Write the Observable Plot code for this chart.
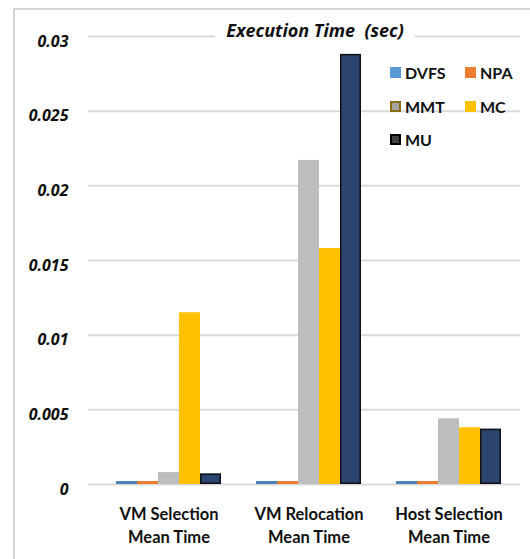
<!DOCTYPE html>
<html>
<head>
<meta charset="utf-8">
<script src="https://cdn.jsdelivr.net/npm/d3@7"></script>
<script src="https://cdn.jsdelivr.net/npm/@observablehq/plot@0.6"></script>
<style>
  html, body { margin: 0; padding: 0; background: #fff; overflow: hidden; }
  #wrap { position: relative; width: 530px; height: 559px; font-family: Lato, "Open Sans", sans-serif; }
  #border { position: absolute; left: 13px; top: 8px; width: 560px; height: 600px; border: 2px solid #d4d4d4; box-sizing: border-box; }
  #title { position: absolute; left: 215px; top: 18px; width: 200px; text-align: center; font: italic bold 18px "Open Sans", sans-serif; color: #111; white-space: pre; background: #fff; line-height: 24px; }
  .lg { position: absolute; font: bold 16px Lato, sans-serif; color: #111; display: flex; align-items: center; }
  .sw { width: 11px; height: 11px; margin-right: 4px; box-sizing: border-box; }
</style>
</head>
<body>
<div id="wrap">
  <div id="border"></div>
  <div id="title">Execution Time  (sec)</div>
  <div id="legend"></div>
</div>
<script>
const categories = ["VM Selection Mean Time", "VM Relocation Mean Time", "Host Selection Mean Time"];
const categoryLabels = ["VM Selection\nMean Time", "VM Relocation\nMean Time", "Host Selection\nMean Time"];
const series = ["DVFS", "NPA", "MMT", "MC", "MU"];
const dvfs = [0.0002, 0.0002, 0.0002];
const npa  = [0.0002, 0.0002, 0.0002];
const mmt  = [0.0008, 0.0217, 0.0044];
const mc   = [0.0115, 0.0158, 0.0038];
const mu   = [0.0007, 0.0288, 0.0037];
const yTicks = [0, 0.005, 0.01, 0.015, 0.02, 0.025, 0.03];
const colors = ["#4f81b4", "#ed7d31", "#bdbdbd", "#ffc000", "#2b4570"];

const values = [dvfs, npa, mmt, mc, mu];
const data = [];
categories.forEach((c, i) => {
  series.forEach((s, j) => {
    data.push({category: c, label: categoryLabels[i], series: s, value: values[j][i]});
  });
});

const wrap = document.getElementById("wrap");
const yDomain = [0, 0.03];

// Background: gridlines and y tick labels through the y scale
const back = Plot.plot({
  width: 530, height: 559, marginTop: 36, marginBottom: 75, marginLeft: 88, marginRight: 10,
  style: {background: "transparent", overflow: "visible"},
  x: {axis: null, domain: [0, 1]},
  y: {domain: yDomain, axis: null},
  marks: [
    Plot.ruleY(yTicks, {stroke: "#d9d9d9", strokeWidth: 2}),
    Plot.text(yTicks, {frameAnchor: "left", y: d => d, text: d => String(d), textAnchor: "end", dx: -20, dy: 5, fontSize: 16, fontWeight: "bold", fontStyle: "italic", fill: "#111"})
  ]
});
back.style.position = "absolute";
back.style.left = "0px";
back.style.top = "0px";
wrap.insertBefore(back, document.getElementById("title"));

const chart = Plot.plot({
  width: 530,
  height: 559,
  marginTop: 36,
  marginBottom: 75,
  marginLeft: 97,
  marginRight: 12,
  style: {background: "transparent", fontFamily: "Lato, sans-serif", overflow: "visible"},
  facet: {data: data, x: "category"},
  fx: {domain: categories, padding: 0, axis: null},
  x: {domain: series, paddingInner: 0, paddingOuter: 0.69, axis: null},
  y: {domain: yDomain, axis: null},
  color: {domain: series, range: colors},
  marks: [
    Plot.barY(data, {x: "series", y: "value", fill: "series", inset: 0}),
    Plot.barY(data, {filter: d => d.series === "MU", x: "series", y: "value", fill: "none", stroke: "#111", strokeWidth: 1.5, inset: 0.75}),
    Plot.text(data, {filter: d => d.series === "MMT", x: "series", y: d => 0, text: "label", dy: 40, lineHeight: 1.4, fontSize: 16.5, fontWeight: "bold", fill: "#111"})
  ]
});
chart.style.position = "absolute";
chart.style.left = "0px";
chart.style.top = "0px";
wrap.insertBefore(chart, document.getElementById("title"));

// Legend
const legendPos = [
  {name: "DVFS", left: 390, top: 63},
  {name: "NPA", left: 465, top: 63},
  {name: "MMT", left: 390, top: 97},
  {name: "MC", left: 465, top: 97},
  {name: "MU", left: 390, top: 130}
];
const legendStyle = {
  DVFS: "background:#5b9bd5;",
  NPA: "background:#ed7d31;",
  MMT: "background:#a5a5a5;border:2px solid #8a6d10;",
  MC: "background:#ffc000;",
  MU: "background:#404040;border:2px solid #000;"
};
const lg = document.getElementById("legend");
legendPos.forEach(p => {
  const el = document.createElement("div");
  el.className = "lg";
  el.style.left = p.left + "px";
  el.style.top = p.top + "px";
  el.innerHTML = `<div class="sw" style="${legendStyle[p.name]}"></div><span>${p.name}</span>`;
  lg.appendChild(el);
});
</script>
</body>
</html>
